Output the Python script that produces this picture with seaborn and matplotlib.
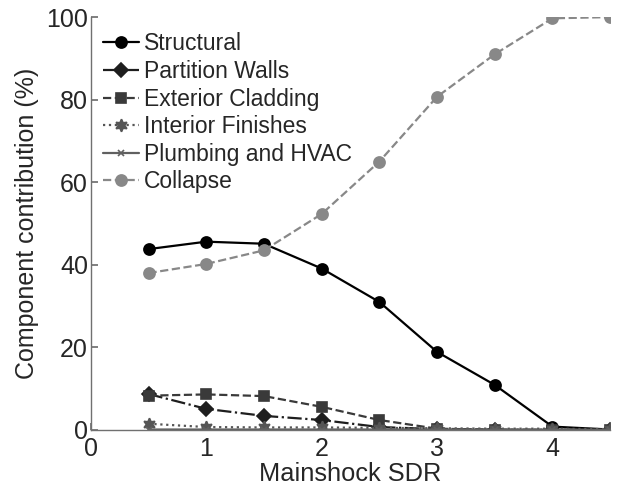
import numpy as np
import pandas as pd
import matplotlib
matplotlib.use("Agg")
import matplotlib.pyplot as plt
import seaborn as sns

sdr = [0.5, 1.0, 1.5, 2.0, 2.5, 3.0, 3.5, 4.0, 4.5]
structural = [43.8, 45.6, 45.1, 39.1, 31.0, 18.9, 10.9, 0.8, 0.1]
partition = [8.7, 5.1, 3.4, 2.4, 0.7, 0.2, 0.05, 0.02, 0.0]
cladding = [8.3, 8.6, 8.2, 5.6, 2.4, 0.3, 0.05, 0.02, 0.0]
finishes = [1.5, 0.7, 0.6, 0.6, 0.5, 0.4, 0.3, 0.3, 0.2]
plumbing = [0.1, 0.1, 0.1, 0.1, 0.1, 0.1, 0.05, 0.05, 0.05]
collapse = [38.0, 40.2, 43.5, 52.3, 65.0, 80.7, 91.0, 99.7, 100.0]

series_names = ["Structural", "Partition Walls", "Exterior Cladding",
                "Interior Finishes", "Plumbing and HVAC", "Collapse"]
series_vals = [structural, partition, cladding, finishes, plumbing, collapse]

styles = {
    "Structural": dict(color="#000000", marker="o", ls="-", ms=8, lw=1.6),
    "Partition Walls": dict(color="#1e1e1e", marker="D", ls="-.", ms=7, lw=1.6),
    "Exterior Cladding": dict(color="#3a3a3a", marker="s", ls="--", ms=7, lw=1.6),
    "Interior Finishes": dict(color="#555555", marker=(6, 1, 0), ls=":", ms=9, lw=1.6),
    "Plumbing and HVAC": dict(color="#606060", marker="x", ls="-", ms=5, lw=1.6),
    "Collapse": dict(color="#888888", marker="o", ls="--", ms=8, lw=1.6),
}

sns.set_theme(style="ticks")
plt.rcParams["font.family"] = ["Liberation Sans", "DejaVu Sans"]

fig = plt.figure(figsize=(6.22, 4.88), dpi=100)
ax = fig.add_axes([0.146, 0.119, 0.835, 0.846])

for name, vals in zip(series_names, series_vals):
    st = styles[name]
    df = pd.DataFrame({"x": sdr, "y": vals})
    sns.lineplot(data=df, x="x", y="y", ax=ax, color=st["color"], marker=st["marker"],
                 linestyle=st["ls"], markersize=st["ms"], linewidth=st["lw"],
                 markeredgecolor=st["color"], markeredgewidth=1.2, label=name)

ax.set_xlim(0, 4.5)
ax.set_ylim(0, 100)
ax.set_xticks([0, 1, 2, 3, 4])
ax.set_yticks([0, 20, 40, 60, 80, 100])
ax.set_xlabel("Mainshock SDR", fontsize=18.3, labelpad=0.5)
ax.set_ylabel("Component contribution (%)", fontsize=18, labelpad=5)
ax.tick_params(axis="both", direction="in", labelsize=18, length=5, color="#707070")
ax.tick_params(axis="y", pad=2)
ax.tick_params(axis="x", pad=5)
for s in ["top", "right"]:
    ax.spines[s].set_visible(False)
for s in ["left", "bottom"]:
    ax.spines[s].set_color("#707070")
    ax.spines[s].set_linewidth(1.0)

leg = ax.legend(loc="upper left", frameon=False, fontsize=16.5, handlelength=1.6,
                handletextpad=0.2, labelspacing=0.2, borderaxespad=0.0,
                bbox_to_anchor=(0.005, 0.985))

fig.savefig("out.png", dpi=100)
